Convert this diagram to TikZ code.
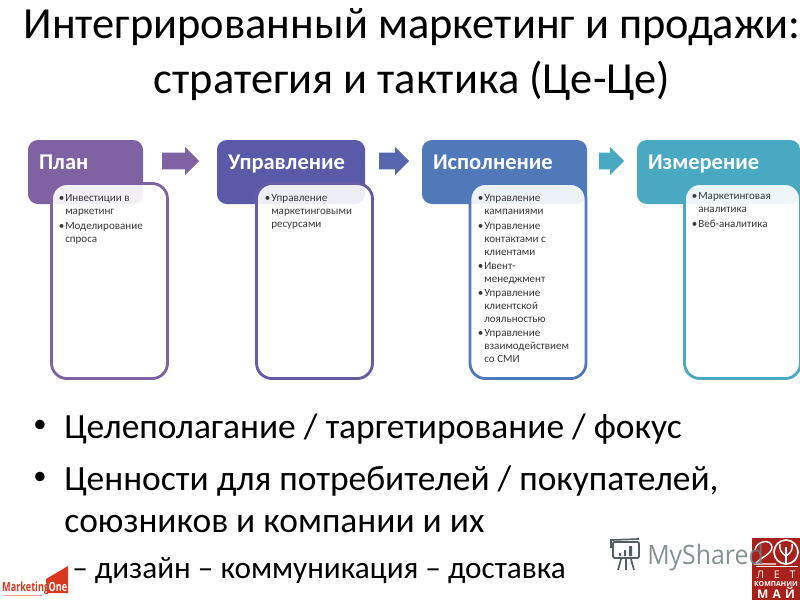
\documentclass[tikz,border=0pt]{standalone}
\usepackage{fontspec}
\setmainfont{Carlito}
\newfontfamily\logofont{Open Sans}
\usetikzlibrary{shapes.arrows}
\definecolor{planc}{HTML}{7F62A2}
\definecolor{uprc}{HTML}{5A5AA8}
\definecolor{ispc}{HTML}{5079BA}
\definecolor{izmc}{HTML}{4AA9C2}
\definecolor{redc}{HTML}{A8201A}
\definecolor{mktc}{HTML}{D9381E}
\definecolor{shrc}{HTML}{6F7F7F}
\newdimen\pxd
\pxd=0.7113pt
\newcommand{\itm}{\llap{\textbullet\kern.6pt}}
\tikzset{
  head/.style={fill=#1,rounded corners=7pt,outer sep=0pt,inner xsep=11\pxd,inner ysep=0pt,minimum height=64\pxd,anchor=north west,text=white,font=\fontsize{16}{14}\bfseries\selectfont,align=left,text height=14\pxd,text depth=20\pxd},
  body/.style={draw=#1,line width=2pt,rounded corners=11pt,fill=white,fill opacity=.9,draw opacity=1,outer sep=0pt,inner sep=0pt,anchor=north west,minimum height=195\pxd,minimum width=116\pxd},
  blockarrow/.style={fill=#1,shape=single arrow,single arrow head extend=5.5\pxd,inner xsep=0pt,inner ysep=8\pxd,outer sep=0pt,anchor=tail},
  lst/.style={anchor=north west,inner sep=0pt,text=black!78,align=left,font=\fontsize{7.85}{9.2}\selectfont},
  bigt/.style={anchor=base west,inner sep=0pt,align=left,font=\fontsize{25.2}{27}\selectfont},
  ttl/.style={anchor=base,inner sep=0pt,font=\fontsize{31.6}{38}\selectfont}
}
\begin{document}
\begin{tikzpicture}[x=0.025cm,y=-0.025cm]
\useasboundingbox (0,0) rectangle (800,600);
\node[ttl] (title1) at (412,38) {Интегрированный маркетинг и продажи:};
\node[ttl] (title2) at (412,93) {стратегия и тактика (Це-Це)};
\node[head=planc,text width=93\pxd] (plan) at (28,140) {План};
\node[head=uprc,text width=126\pxd] (upr) at (217,140) {Управление};
\node[head=ispc,text width=143\pxd] (isp) at (422,140) {Исполнение};
\node[head=izmc,text width=141\pxd] (izm) at (637,140) {Измерение};
\node[blockarrow=planc,minimum height=37\pxd] (arr1) at (162,161) {};
\node[blockarrow=uprc!60!ispc,minimum height=30\pxd] (arr2) at (379,161) {};
\node[blockarrow=izmc,minimum height=25\pxd] (arr3) at (599,161) {};
\node[body=planc] (planb) at (51.5,183.5) {};
\node[body=uprc!70!planc] (uprb) at (256.5,183.5) {};
\node[body=ispc] (ispb) at (470,183.5) {};
\node[body=izmc] (izmb) at (684.5,183.5) {};
\node[lst] (planl) at (65,194.5) {\itm Инвестиции в\\маркетинг\\[1.5pt]\itm Моделирование\\спроса};
\node[lst] (uprl) at (271,194.5) {\itm Управление\\маркетинговыми\\ресурсами};
\node[lst] (ispl) at (484,194.5) {\itm Управление\\кампаниями\\[1pt]\itm Управление\\контактами с\\клиентами\\[1pt]\itm Ивент-\\менеджмент\\[1pt]\itm Управление\\клиентской\\лояльностью\\[1pt]\itm Управление\\взаимодействием\\со СМИ};
\node[lst] (izml) at (698,192.5) {\itm Маркетинговая\\аналитика\\[1.5pt]\itm Веб-аналитика};
\node[bigt,font=\fontsize{19}{27}\selectfont] (bul1) at (33,432) {•};
\node[bigt] (txt1) at (64,438) {Целеполагание / таргетирование / фокус};
\node[bigt,font=\fontsize{19}{27}\selectfont] (bul2) at (33,484) {•};
\node[bigt] (txt2) at (64,490) {Ценности для потребителей / покупателей,};
\node[bigt] (txt3) at (64,532) {союзников и компании и их};
\node[bigt,font=\fontsize{22.2}{27}\selectfont] (txt4) at (72,578) {– дизайн – коммуникация – доставка};
\fill[mktc] (46,579) -- (68,566) -- (68,593) -- (47,593) -- cycle;
\node[anchor=base west,inner sep=0pt,text=mktc,font=\logofont\bfseries\fontsize{9}{9}\selectfont,xscale=.72] (mkt) at (2,591.5) {Marketing};
\node[anchor=base,inner sep=0pt,text=white,font=\logofont\bfseries\fontsize{9}{9}\selectfont,xscale=.72] (one) at (58,591.5) {One};
\draw[mktc!50,line width=.8pt] (4,595.5) -- (42,595.5);
\fill[redc] (752,538) rectangle (800,600);
\draw[white,line width=1pt] (755,550) .. controls (756,541) and (771,538) .. (772,547) .. controls (772,554) and (760,558) .. (755,564) -- (776,564);
\draw[white,line width=1.2pt] (786,552) circle (12);
\draw[white,line width=1pt] (786,563) -- (786,547);
\draw[white,line width=1pt] (786,556) .. controls (781,553) and (779,549) .. (780,544);
\draw[white,line width=1pt] (786,556) .. controls (791,553) and (793,549) .. (792,544);
\draw[white,line width=.6pt] (756,566) -- (798,566);
\node[anchor=base,inner sep=0pt,text=white,font=\logofont\fontsize{7.5}{8}\selectfont] (let) at (776,578) {Л\hspace{7pt}Е\hspace{7pt}Т};
\node[anchor=base,inner sep=0pt,text=white,font=\logofont\bfseries\fontsize{5}{5}\selectfont] (komp) at (776,586) {КОМПАНИИ};
\node[anchor=base,inner sep=0pt,text=white,font=\logofont\bfseries\fontsize{8.5}{8}\selectfont] (mai) at (776,598) {М\hspace{3pt}А\hspace{3pt}Й};
\node[anchor=base west,inner sep=0pt,text=shrc,font=\logofont\fontsize{19}{19}\selectfont,xscale=.93,text opacity=.85] (shr) at (647,564) {MyShared};
\draw[shrc!75!black,line width=1.2pt,rounded corners=1pt] (613,542) rectangle (639,558);
\draw[shrc!75!black,line width=1.2pt] (611,548) -- (611,540) -- (639,539);
\fill[shrc!75!black] (619,553) rectangle (621,556) (624,550) rectangle (626,556) (629,546) rectangle (632,556);
\draw[shrc!75!black,line width=1.2pt] (621,559) -- (618,570) (626,559) -- (626,570) (631,559) -- (634,570);
\end{tikzpicture}
\end{document}
